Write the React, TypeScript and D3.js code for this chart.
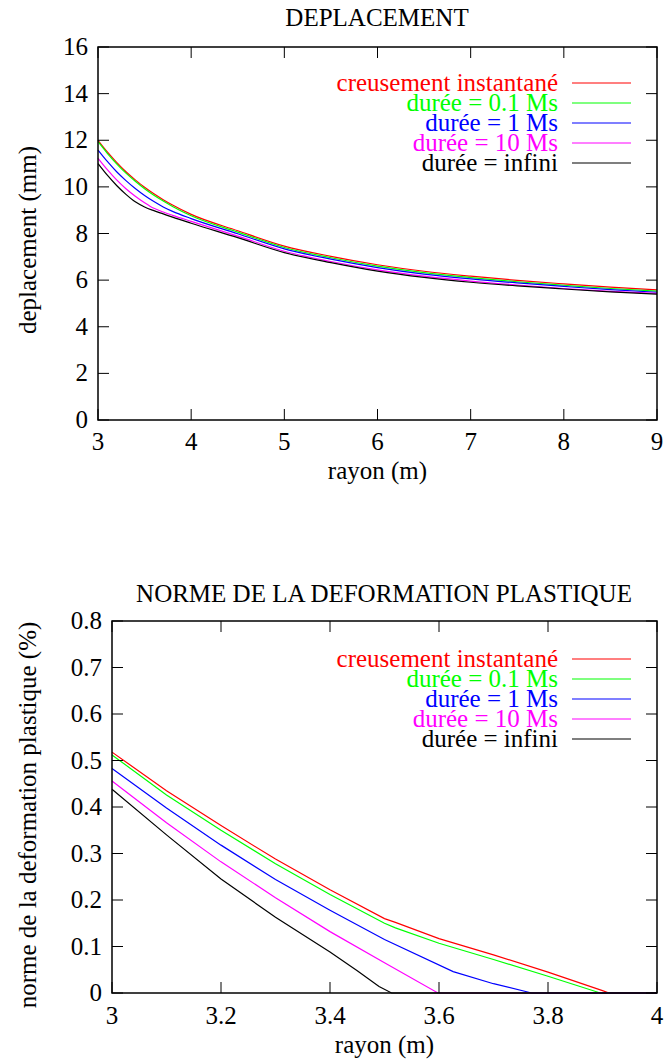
import React from "react";
import * as d3 from "d3";

// ---------- DATA ----------
const seriesNames = ["creusement instantané", "durée = 0.1 Ms", "durée = 1 Ms", "durée = 10 Ms", "durée = infini"];
const seriesColors = ["#ff0000", "#00ff00", "#0000ff", "#ff00ff", "#000000"];

// Top chart: deplacement (mm) vs rayon (m)
const dispR = [3.0, 3.1, 3.2, 3.3, 3.4, 3.5, 3.6, 3.7, 3.8, 4.0, 4.5, 5.0, 5.5, 6.0, 6.5, 7.0, 7.5, 8.0, 8.5, 9.0];
const dispInstant = [12.0, 11.5, 11.05, 10.65, 10.3, 9.98, 9.7, 9.45, 9.22, 8.82, 8.12, 7.46, 7.02, 6.66, 6.38, 6.17, 5.99, 5.84, 5.7, 5.58];
const dispD01 = [11.94, 11.44, 10.99, 10.59, 10.24, 9.92, 9.64, 9.39, 9.16, 8.76, 8.06, 7.4, 6.96, 6.6, 6.32, 6.11, 5.93, 5.78, 5.64, 5.53];
const dispD1 = [11.58, 11.09, 10.65, 10.27, 9.93, 9.63, 9.37, 9.14, 8.95, 8.64, 7.99, 7.34, 6.9, 6.54, 6.26, 6.05, 5.88, 5.73, 5.59, 5.48];
const dispD10 = [11.23, 10.74, 10.3, 9.92, 9.6, 9.32, 9.08, 8.92, 8.78, 8.52, 7.89, 7.24, 6.8, 6.44, 6.17, 5.96, 5.79, 5.64, 5.52, 5.43];
const dispInf = [11.0, 10.5, 10.06, 9.68, 9.36, 9.14, 8.98, 8.84, 8.7, 8.44, 7.82, 7.18, 6.75, 6.39, 6.12, 5.91, 5.75, 5.62, 5.5, 5.4];

const dispXTicks = [3, 4, 5, 6, 7, 8, 9];
const dispYTicks = [0, 2, 4, 6, 8, 10, 12, 14, 16];

// Bottom chart: norme de la deformation plastique (%) vs rayon (m)
const defInstantR = [3.0, 3.1, 3.2, 3.3, 3.4, 3.5, 3.52, 3.6, 3.7, 3.8, 3.9, 3.912, 4.0];
const defInstant = [0.518, 0.435, 0.36, 0.288, 0.222, 0.16, 0.152, 0.117, 0.082, 0.045, 0.005, 0, 0];
const defD01R = [3.0, 3.1, 3.2, 3.3, 3.4, 3.5, 3.52, 3.6, 3.7, 3.8, 3.896, 4.0];
const defD01 = [0.512, 0.426, 0.35, 0.278, 0.212, 0.15, 0.14, 0.107, 0.072, 0.036, 0, 0];
const defD1R = [3.0, 3.1, 3.2, 3.3, 3.4, 3.5, 3.626, 3.7, 3.77, 4.0];
const defD1 = [0.483, 0.398, 0.318, 0.244, 0.178, 0.115, 0.046, 0.02, 0, 0];
const defD10R = [3.0, 3.1, 3.2, 3.3, 3.4, 3.5, 3.598, 4.0];
const defD10 = [0.456, 0.366, 0.282, 0.205, 0.132, 0.065, 0, 0];
const defInfR = [3.0, 3.1, 3.2, 3.3, 3.4, 3.45, 3.49, 3.513, 4.0];
const defInf = [0.438, 0.34, 0.245, 0.163, 0.088, 0.048, 0.014, 0, 0];

const defXTicks = [3, 3.2, 3.4, 3.6, 3.8, 4];
const defYTicks = [0, 0.1, 0.2, 0.3, 0.4, 0.5, 0.6, 0.7, 0.8];

const FONT = "Liberation Serif";
const FS = 25;

type Series = { xs: number[]; ys: number[] };

function Panel(props: {
  top: number; bottom: number; left: number; right: number;
  xDomain: [number, number]; yDomain: [number, number];
  xTicks: number[]; yTicks: number[];
  yFmt: (v: number) => string; xFmt: (v: number) => string;
  title: string; titleY: number; titleX: number;
  yLabel: string; yLabelX: number; yLabelY: number;
  xLabelY: number; xTickLabelY: number;
  series: Series[]; legendY0: number; smooth: boolean;
}) {
  const p = props;
  const x = d3.scaleLinear().domain(p.xDomain).range([p.left, p.right]);
  const y = d3.scaleLinear().domain(p.yDomain).range([p.bottom, p.top]);
  const line = d3.line<[number, number]>().x((d) => x(d[0])).y((d) => y(d[1]))
    .curve(p.smooth ? d3.curveMonotoneX : d3.curveLinear);
  const tl = 11;
  return (
    <g>
      <text x={p.titleX} y={p.titleY} fontSize={FS} fontFamily={FONT} textAnchor="middle">{p.title}</text>
      {p.series.map((s, i) => (
        <path key={i} d={line(s.xs.map((v, j) => [v, s.ys[j]] as [number, number])) || ""}
          fill="none" stroke={seriesColors[i]} strokeWidth={1.2} />
      ))}
      <rect x={p.left} y={p.top} width={p.right - p.left} height={p.bottom - p.top} fill="none" stroke="#000" strokeWidth={1.5} />
      {p.xTicks.map((t, i) => (
        <g key={"x" + i}>
          <line x1={x(t)} x2={x(t)} y1={p.bottom} y2={p.bottom - tl} stroke="#000" />
          <line x1={x(t)} x2={x(t)} y1={p.top} y2={p.top + tl} stroke="#000" />
          <text x={x(t)} y={p.xTickLabelY} fontSize={FS} fontFamily={FONT} textAnchor="middle">{p.xFmt(t)}</text>
        </g>
      ))}
      {p.yTicks.map((t, i) => (
        <g key={"y" + i}>
          <line x1={p.left} x2={p.left + tl} y1={y(t)} y2={y(t)} stroke="#000" />
          <line x1={p.right} x2={p.right - tl} y1={y(t)} y2={y(t)} stroke="#000" />
          <text x={p.left - 10} y={y(t) + 8} fontSize={FS} fontFamily={FONT} textAnchor="end">{p.yFmt(t)}</text>
        </g>
      ))}
      <text x={(p.left + p.right) / 2} y={p.xLabelY} fontSize={FS} fontFamily={FONT} textAnchor="middle">rayon (m)</text>
      <text transform={`translate(${p.yLabelX},${p.yLabelY}) rotate(-90)`} fontSize={FS} fontFamily={FONT} textAnchor="middle">{p.yLabel}</text>
      {seriesNames.map((n, i) => {
        const ly = p.legendY0 + i * 20;
        return (
          <g key={"l" + i}>
            <text x={558} y={ly + 8} fontSize={FS} fontFamily={FONT} textAnchor="end" fill={seriesColors[i]}>{n}</text>
            <line x1={572} x2={631} y1={ly} y2={ly} stroke={seriesColors[i]} strokeWidth={1.2} />
          </g>
        );
      })}
    </g>
  );
}

export default function App() {
  const topSeries: Series[] = [
    { xs: dispR, ys: dispInstant },
    { xs: dispR, ys: dispD01 },
    { xs: dispR, ys: dispD1 },
    { xs: dispR, ys: dispD10 },
    { xs: dispR, ys: dispInf },
  ];
  const botSeries: Series[] = [
    { xs: defInstantR, ys: defInstant },
    { xs: defD01R, ys: defD01 },
    { xs: defD1R, ys: defD1 },
    { xs: defD10R, ys: defD10 },
    { xs: defInfR, ys: defInf },
  ];
  return (
    <svg width={667} height={1063} style={{ position: "absolute", left: 0, top: 0, background: "#fff" }}>
      <rect x={0} y={0} width={667} height={1063} fill="#fff" />
      <Panel top={47} bottom={420} left={98} right={657}
        xDomain={[3, 9]} yDomain={[0, 16]} xTicks={dispXTicks} yTicks={dispYTicks}
        yFmt={(v) => String(v)} xFmt={(v) => String(v)}
        title="DEPLACEMENT" titleX={377} titleY={26}
        yLabel="deplacement (mm)" yLabelX={36} yLabelY={240}
        xLabelY={479} xTickLabelY={450}
        series={topSeries} legendY0={83} smooth={true} />
      <Panel top={621} bottom={993} left={112} right={657}
        xDomain={[3, 4]} yDomain={[0, 0.8]} xTicks={defXTicks} yTicks={defYTicks}
        yFmt={(v) => (v === 0 ? "0" : d3.format(".1f")(v))} xFmt={(v) => (Number.isInteger(v) ? String(v) : d3.format(".1f")(v))}
        title="NORME DE LA DEFORMATION PLASTIQUE" titleX={384} titleY={602}
        yLabel="norme de la deformation plastique (%)" yLabelX={36} yLabelY={815}
        xLabelY={1053} xTickLabelY={1024}
        series={botSeries} legendY0={659} smooth={false} />
    </svg>
  );
}
